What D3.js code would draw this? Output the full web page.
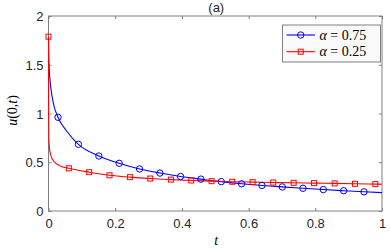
<!DOCTYPE html>
<html>
<head>
<meta charset="utf-8">
<script src="https://cdn.jsdelivr.net/npm/d3@7/dist/d3.min.js"></script>
<style>
  body { margin: 0; background: #fff; }
  .tick-lbl { font-family: "Liberation Sans", Arial, sans-serif; font-size: 13px; fill: #262626; }
  .tex { font-family: "Liberation Serif", "DejaVu Serif", serif; font-size: 14px; fill: #000; }
</style>
</head>
<body>
<div class="chart"></div>
<script>
"use strict";
// alpha = 0.75 curve (line samples)
var tBlue = [0, 0.0005, 0.0015, 0.004, 0.0066, 0.0145, 0.0285, 0.056, 0.0897, 0.151, 0.212, 0.273, 0.334, 0.396, 0.457, 0.518, 0.579, 0.640, 0.701, 0.763, 0.824, 0.885, 0.946, 1.0];
var uBlue = [1.788, 1.62, 1.50, 1.36, 1.275, 1.105, 0.961, 0.813, 0.684, 0.564, 0.489, 0.431, 0.389, 0.354, 0.327, 0.301, 0.279, 0.262, 0.247, 0.233, 0.220, 0.208, 0.197, 0.188];
// alpha = 0.25 curve
var tRed = [0, 0.0003, 0.001, 0.003, 0.008, 0.016, 0.035, 0.061, 0.122, 0.183, 0.244, 0.305, 0.367, 0.428, 0.489, 0.551, 0.612, 0.674, 0.735, 0.796, 0.858, 0.919, 0.980, 1.0];
var uRed = [1.788, 1.05, 0.75, 0.64, 0.56, 0.51, 0.462, 0.438, 0.398, 0.366, 0.347, 0.333, 0.322, 0.313, 0.306, 0.300, 0.296, 0.292, 0.289, 0.286, 0.283, 0.279, 0.276, 0.275];
// marker positions (subset of the samples above)
var blueMarkers = [0.0285, 0.0897, 0.151, 0.212, 0.273, 0.334, 0.396, 0.457, 0.518, 0.579, 0.640, 0.701, 0.763, 0.824, 0.885, 0.946];
var redMarkers = [0, 0.061, 0.122, 0.183, 0.244, 0.305, 0.367, 0.428, 0.489, 0.551, 0.612, 0.674, 0.735, 0.796, 0.858, 0.919, 0.980];
var xTicks = [0, 0.2, 0.4, 0.6, 0.8, 1];
var yTicks = [0, 0.5, 1, 1.5, 2];
var legendLabels = ["0.75", "0.25"];

var margin = {top: 16, right: 8, bottom: 39, left: 48.5},
    W = 390, H = 250,
    width = W - margin.left - margin.right,
    height = H - margin.top - margin.bottom;

var svg = d3.select(".chart").append("svg")
    .attr("width", W).attr("height", H);
var g = svg.append("g")
    .attr("transform", "translate(" + margin.left + "," + margin.top + ")");

var x = d3.scaleLinear().domain([0, 1]).range([0, width]);
var y = d3.scaleLinear().domain([0, 2]).range([height, 0]);

function zip(ts, us) {
  return ts.map(function(t, i){ return {t: t, u: us[i]}; });
}
function lookup(ts, us, t) {
  var i = ts.indexOf(t);
  return us[i];
}

var series = [
  {name: "0.75", color: "#0000ff", data: zip(tBlue, uBlue),
   marks: blueMarkers.map(function(t){ return {t: t, u: lookup(tBlue, uBlue, t)}; }), shape: "circle"},
  {name: "0.25", color: "#ff0000", data: zip(tRed, uRed),
   marks: redMarkers.map(function(t){ return {t: t, u: lookup(tRed, uRed, t)}; }), shape: "square"}
];

//axes with inward ticks, mirrored on top/right
var axisColor = "#808080";
function styleAxis(sel) {
  sel.select(".domain").remove();
  sel.selectAll(".tick line").attr("stroke", axisColor);
}
g.append("g").attr("transform", "translate(0," + height + ")")
  .call(d3.axisBottom(x).tickValues(xTicks).tickSize(-3).tickFormat(d3.format("")))
  .call(styleAxis)
  .selectAll("text").attr("class", "tick-lbl").attr("dy", "0").attr("y", 17).attr("font-size", null).attr("font-family", null).attr("fill", null);
g.append("g")
  .call(d3.axisTop(x).tickValues(xTicks).tickSize(-3).tickFormat(""))
  .call(styleAxis);
g.append("g")
  .call(d3.axisLeft(y).tickValues(yTicks).tickSize(-3).tickFormat(d3.format("")))
  .call(styleAxis)
  .selectAll("text").attr("class", "tick-lbl").attr("x", -5).attr("dy", "0.35em").attr("font-size", null).attr("font-family", null).attr("fill", null);
g.append("g").attr("transform", "translate(" + width + ",0)")
  .call(d3.axisRight(y).tickValues(yTicks).tickSize(-3).tickFormat(""))
  .call(styleAxis);
g.append("rect")
  .attr("width", width).attr("height", height)
  .attr("fill", "none").attr("stroke", axisColor).attr("stroke-width", 1);

//curves
var line = d3.line()
  .x(function(d){ return x(d.t); })
  .y(function(d){ return y(d.u); })
  .curve(d3.curveMonotoneX);

series.forEach(function(s){
  g.append("path").datum(s.data)
    .attr("d", line)
    .attr("fill", "none").attr("stroke", s.color).attr("stroke-width", 1.1);
});
series.forEach(function(s){
  var m = g.selectAll(".m-" + s.shape).data(s.marks).enter();
  if (s.shape === "circle") {
    m.append("circle")
      .attr("cx", function(d){ return x(d.t); })
      .attr("cy", function(d){ return y(d.u); })
      .attr("r", 3.2)
      .attr("fill", "none").attr("stroke", s.color).attr("stroke-width", 1);
  } else {
    m.append("rect")
      .attr("x", function(d){ return x(d.t) - 2.5; })
      .attr("y", function(d){ return y(d.u) - 2.5; })
      .attr("width", 5).attr("height", 5)
      .attr("fill", "none").attr("stroke", s.color).attr("stroke-width", 1);
  }
});

//title
svg.append("text")
  .attr("class", "tick-lbl")
  .attr("x", margin.left + width / 2 + 1).attr("y", 12)
  .attr("text-anchor", "middle")
  .text("(a)");

//axis labels
var xl = svg.append("text").attr("class", "tex")
  .attr("x", margin.left + width / 2 + 1).attr("y", 245)
  .attr("text-anchor", "middle");
xl.append("tspan").attr("font-style", "italic").text("t");

var yl = svg.append("text").attr("class", "tex")
  .attr("text-anchor", "middle")
  .attr("transform", "translate(17," + (margin.top + height / 2 - 3) + ") rotate(-90)");
yl.append("tspan").attr("font-style", "italic").text("u");
yl.append("tspan").text("(0,");
yl.append("tspan").attr("font-style", "italic").text("t");
yl.append("tspan").text(")");

//legend
var lg = svg.append("g").attr("transform", "translate(282.5,25)");
lg.append("rect")
  .attr("width", 98).attr("height", 37)
  .attr("fill", "#fafafa").attr("stroke", "#808080").attr("stroke-width", 1);
series.forEach(function(s, i){
  var cy = 10 + i * 16.7;
  lg.append("line")
    .attr("x1", 4).attr("x2", 32.5).attr("y1", cy).attr("y2", cy)
    .attr("stroke", s.color).attr("stroke-width", 1.1);
  if (s.shape === "circle") {
    lg.append("circle").attr("cx", 18.2).attr("cy", cy).attr("r", 3.2)
      .attr("fill", "none").attr("stroke", s.color);
  } else {
    lg.append("rect").attr("x", 15.7).attr("y", cy - 2.5).attr("width", 5).attr("height", 5)
      .attr("fill", "none").attr("stroke", s.color);
  }
  var t = lg.append("text").attr("class", "tex")
    .attr("x", 37).attr("y", cy + 4.5);
  t.append("tspan").attr("font-style", "italic").text("\u03b1");
  t.append("tspan").text(" = " + legendLabels[i]);
});
</script>
</body>
</html>
